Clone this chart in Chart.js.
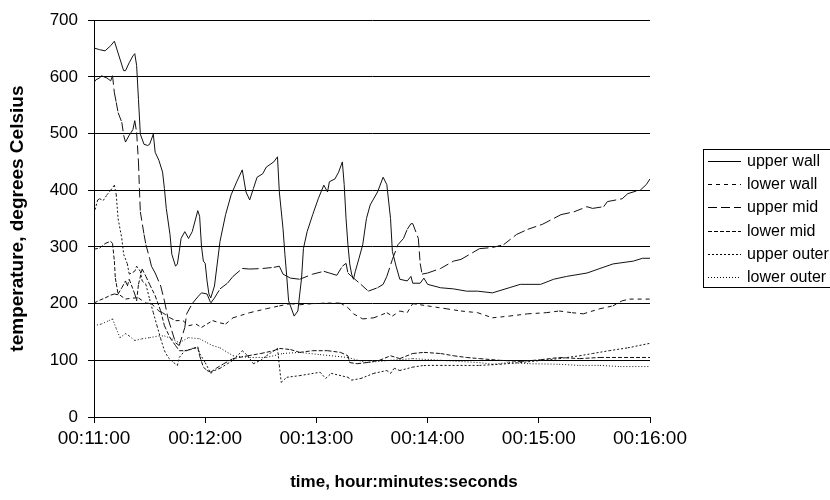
<!DOCTYPE html>
<html>
<head>
<meta charset="utf-8">
<script src="https://cdn.jsdelivr.net/npm/chart.js@4.4.0/dist/chart.umd.min.js"></script>
<style>
  html, body { margin: 0; padding: 0; background: #fff; }
</style>
</head>
<body>
<canvas id="tempChart" width="830" height="500"></canvas>
<script>
/* Chart data: [seconds since 00:00:00, degrees C] */
const seriesNames = ['upper wall', 'lower wall', 'upper mid', 'lower mid', 'upper outer', 'lower outer'];
const timeTicks = [660, 720, 780, 840, 900, 960];
const tempTicks = [0, 100, 200, 300, 400, 500, 600, 700];

const upperWall = [
  [660,651],[663,648],[666,646],[669,655],[671,663],[673,642],[676,611],[677,611],[679,625],[681,637],
  [682,641],[683,620],[684,560],[685,499],[687,481],[689,479],[690,481],[692,499],[693,467],[695,453],
  [697,432],[698,403],[699,368],[701,322],[702,287],[704,266],[705,270],[706,292],[707,315],[709,327],
  [711,315],[713,327],[716,364],[717,354],[718,301],[719,275],[720,271],[721,240],[722,217],[723,210],
  [725,231],[728,310],[731,357],[734,392],[737,415],[740,436],[742,397],[744,383],[746,403],[748,423],
  [751,429],[753,441],[757,450],[759,459],[760,397],[762,332],[763,287],[764,248],[765,205],[767,187],
  [768,178],[770,187],[771,217],[772,245],[773,297],[775,327],[778,357],[781,385],[784,409],[786,397],
  [787,415],[790,420],[792,432],[794,450],[795,410],[796,350],[797,304],[798,270],[799,252],[800,243],
  [801,257],[803,280],[805,304],[807,350],[809,374],[813,397],[816,423],[818,410],[820,350],[821,292],
  [823,266],[825,243],[829,240],[831,248],[832,236],[836,236],[838,245],[840,234],[847,228],[854,226],
  [861,222],[867,222],[875,219],[884,228],[890,234],[901,234],[908,243],[915,248],[926,254],[933,262],
  [940,270],[951,275],[956,280],[960,280]
];

const lowerWall = [
  [660,201],[663,206],[666,210],[669,215],[671,217],[674,215],[677,208],[681,210],[684,210],[688,201],
  [691,200],[695,187],[697,184],[701,175],[704,170],[708,170],[711,161],[715,164],[718,158],[721,164],
  [724,170],[728,166],[731,164],[735,175],[744,184],[753,191],[760,196],[766,200],[771,198],[778,200],
  [786,201],[793,201],[797,193],[800,182],[805,173],[811,175],[818,184],[821,178],[825,187],[829,184],
  [832,200],[836,198],[840,196],[850,191],[858,187],[867,184],[875,175],[884,178],[894,182],[904,184],
  [911,187],[918,184],[924,182],[933,191],[940,196],[945,205],[949,208],[960,208]
];

const upperMid = [
  [660,590],[661,595],[663,598],[664,602],[667,598],[669,593],[670,602],[671,572],[672,555],[673,537],
  [675,520],[676,497],[677,485],[679,497],[681,507],[682,523],[683,502],[684,450],[684.5,403],[685,362],
  [687,322],[688,304],[690,280],[691,266],[693,254],[696,231],[698,205],[700,173],[702,152],[704,131],
  [706,126],[709,158],[710,182],[713,200],[716,212],[718,219],[721,217],[723,201],[725,210],[728,226],
  [732,236],[735,248],[740,262],[744,261],[751,262],[757,264],[760,266],[762,252],[766,245],[771,243],
  [778,252],[784,257],[787,254],[791,250],[794,266],[796,271],[797,254],[799,248],[804,234],[808,222],
  [813,228],[816,234],[818,248],[821,278],[824,304],[827,315],[829,331],[831,341],[832,341],[835,315],
  [836,271],[837,252],[840,254],[847,262],[854,275],[858,278],[868,297],[875,299],[881,304],[888,322],
  [894,331],[902,340],[912,357],[919,362],[926,371],[929,368],[935,371],[937,380],[945,385],[948,394],
  [955,401],[958,410],[960,420]
];

const lowerMid = [
  [660,296],[663,298],[666,306],[669,310],[670,306],[671,275],[671.5,245],[672,236],[673,217],[675,228],
  [677,240],[678,231],[679,243],[682,217],[683,205],[684,234],[686,261],[688,248],[690,234],[693,214],
  [696,187],[698,161],[701,140],[704,126],[706,117],[710,117],[713,121],[716,122],[717,108],[719,88],
  [721,82],[723,79],[726,86],[730,94],[735,103],[743,108],[750,112],[757,117],[760,121],[766,119],
  [771,114],[778,117],[786,117],[793,114],[797,108],[798,96],[802,94],[807,96],[814,100],[820,108],
  [825,103],[832,112],[838,114],[847,112],[854,108],[861,105],[868,103],[879,100],[890,98],[901,101],
  [911,105],[922,103],[933,105],[946,105],[960,105]
];

const upperOuter = [
  [660,359],[662,383],[663,385],[665,382],[667,392],[669,400],[671,409],[672,392],[673,350],[675,315],
  [676,287],[678,270],[679,252],[682,257],[683,266],[685,257],[686,240],[688,234],[690,208],[692,184],
  [694,161],[696,138],[698,117],[700,105],[703,96],[705,91],[706,105],[709,117],[712,119],[716,124],
  [717,112],[720,96],[723,77],[725,82],[728,86],[732,94],[735,100],[740,117],[743,108],[746,94],
  [750,100],[753,108],[759,121],[760,91],[761,61],[764,70],[771,73],[782,79],[785,68],[788,77],
  [797,70],[799,65],[804,68],[811,77],[818,82],[820,77],[822,86],[825,82],[832,88],[838,91],
  [847,91],[868,91],[879,93],[890,96],[902,100],[911,103],[922,108],[929,112],[938,117],[948,122],
  [960,130]
];

const lowerOuter = [
  [660,161],[664,164],[668,170],[670,173],[672,156],[674,140],[677,147],[679,143],[682,135],[686,138],
  [690,140],[695,143],[698,143],[702,138],[706,131],[711,140],[717,138],[721,131],[724,126],[728,122],
  [735,108],[744,105],[753,105],[762,112],[771,114],[782,110],[797,105],[807,96],[820,100],[832,103],
  [847,100],[868,96],[875,93],[884,96],[895,94],[911,93],[922,91],[933,91],[944,89],[960,89]
];

const allSeries = [upperWall, lowerWall, upperMid, lowerMid, upperOuter, lowerOuter];
const lineDashes = [[], [4, 4], [9, 4], [4, 2], [2, 2], [1, 2]];

const FONT = '"Liberation Sans", Arial, sans-serif';

function formatTime(sec) {
  const m = Math.floor(sec / 60);
  const s = Math.round(sec % 60);
  return '00:' + String(m).padStart(2, '0') + ':' + String(s).padStart(2, '0');
}

/* Legend box and x axis title drawn on the canvas */
const extrasPlugin = {
  id: 'extras',
  afterDraw(chart) {
    const ctx = chart.ctx;
    ctx.save();
    // legend
    ctx.strokeStyle = '#000';
    ctx.lineWidth = 1;
    ctx.setLineDash([]);
    ctx.strokeRect(703.5, 149.5, 140, 138);
    ctx.font = '16px ' + FONT;
    ctx.fillStyle = '#000';
    ctx.textBaseline = 'middle';
    seriesNames.forEach((name, i) => {
      const y = Math.round(161 + i * 23.2) + 0.5;
      ctx.setLineDash(lineDashes[i]);
      ctx.beginPath();
      ctx.moveTo(708, y);
      ctx.lineTo(741, y);
      ctx.stroke();
      ctx.fillText(name, 747, y);
    });
    // x axis title
    ctx.setLineDash([]);
    ctx.font = 'bold 17px ' + FONT;
    ctx.textAlign = 'center';
    ctx.fillText('time, hour:minutes:seconds', 404, 482);
    ctx.restore();
  }
};

const ctx = document.getElementById('tempChart').getContext('2d');
window.tempChart = new Chart(ctx, {
  type: 'line',
  data: {
    datasets: allSeries.map((pts, i) => ({
      label: seriesNames[i],
      data: pts.map(p => ({ x: p[0], y: p[1] })),
      borderColor: '#111',
      borderWidth: 1,
      borderDash: lineDashes[i],
      pointRadius: 0,
      fill: false,
      tension: 0,
      // restart the dash pattern on every segment, like the old spreadsheet renderer
      segment: { borderDashOffset: c => (c.p0DataIndex % 2) * 0.01 }
    }))
  },
  options: {
    responsive: false,
    animation: false,
    layout: { padding: { top: 17, right: 180, left: 0, bottom: 0 } },
    plugins: {
      legend: { display: false },
      tooltip: { enabled: false }
    },
    scales: {
      x: {
        type: 'linear',
        min: 660,
        max: 960,
        afterFit: s => { s.height = 83; },
        afterBuildTicks: s => { s.ticks = timeTicks.map(v => ({ value: v })); },
        ticks: {
          callback: v => formatTime(v),
          color: '#000',
          font: { family: FONT, size: 19 },
          padding: 4,
          maxRotation: 0,
          autoSkip: false
        },
        grid: { drawOnChartArea: false, drawTicks: true, tickLength: 6, color: '#000' },
        border: { color: '#000' }
      },
      y: {
        min: 0,
        max: 700,
        afterFit: s => { s.width = 94; },
        afterBuildTicks: s => { s.ticks = tempTicks.map(v => ({ value: v })); },
        ticks: {
          color: '#000',
          font: { family: FONT, size: 17 },
          padding: 10
        },
        grid: { color: '#000', tickLength: 6 },
        border: { color: '#000' },
        title: {
          display: true,
          text: 'temperature, degrees Celsius',
          color: '#000',
          font: { family: FONT, size: 19, weight: 'bold' },
          padding: { top: 6, bottom: 0 }
        }
      }
    }
  },
  plugins: [extrasPlugin]
});
</script>
</body>
</html>
